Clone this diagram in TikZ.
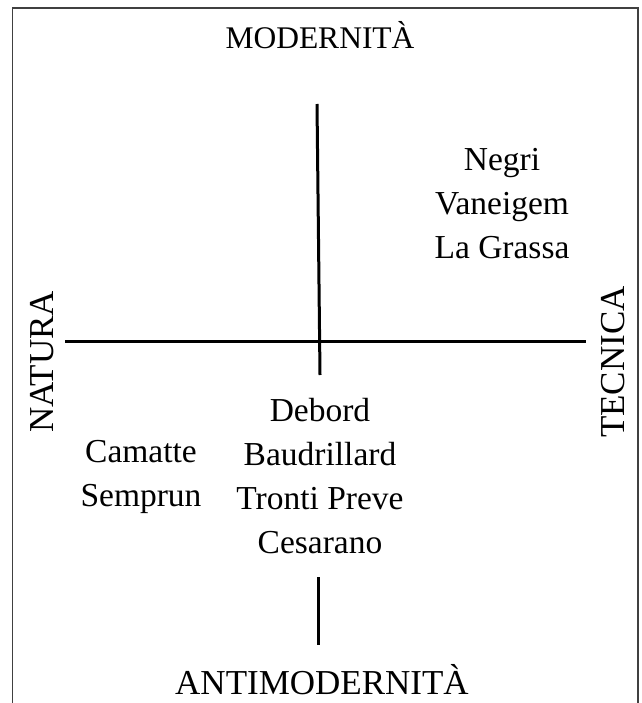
\documentclass[tikz,border=0pt]{standalone}
\usepackage{fontspec}
\setmainfont{Liberation Serif}
\begin{document}
\begin{tikzpicture}[x=1pt, y=-1pt,
    pole/.style={font=\fontsize{35}{40}\selectfont, inner sep=0pt},
    names/.style={font=\fontsize{33.5}{44}\selectfont, align=center, inner sep=0pt},
    axis/.style={line width=3pt, black}]
    \useasboundingbox (0,0) rectangle (641,703);

    % Draw the frame (open at the bottom)
    \draw[line width=1.5pt, black!75] (12.5,703) -- (12.5,8) -- (638,8) -- (638,703);

    % Ends of the axes
    \coordinate (top) at (317,104);
    \coordinate (cross) at (320,375);
    \coordinate (left) at (65,341);
    \coordinate (right) at (586,341);
    \coordinate (low1) at (318,577);
    \coordinate (low2) at (318,645);

    \draw[axis] (top) -- (cross);
    \draw[axis] (left) -- (right);
    \draw[axis] (low1) -- (low2);

    % Label the poles
    \node[pole, font=\fontsize{31.5}{36}\selectfont] (modern) at (320,35) {MODERNIT\`A};
    \node[pole] (antimodern) at (322,680) {ANTIMODERNIT\`A};
    \node[pole, rotate=90] (natura) at (42,362) {NATURA};
    \node[pole, rotate=90] (tecnica) at (613,362) {TECNICA};

    % Authors in each quadrant
    \node[names] (upright) at (502,204) {Negri\\Vaneigem\\La Grassa};
    \node[names] (lowleft) at (141,477) {Camatte\\Semprun};
    \node[names] (lowmid) at (320,476) {Debord\\Baudrillard\\Tronti Preve\\Cesarano};
\end{tikzpicture}
\end{document}
